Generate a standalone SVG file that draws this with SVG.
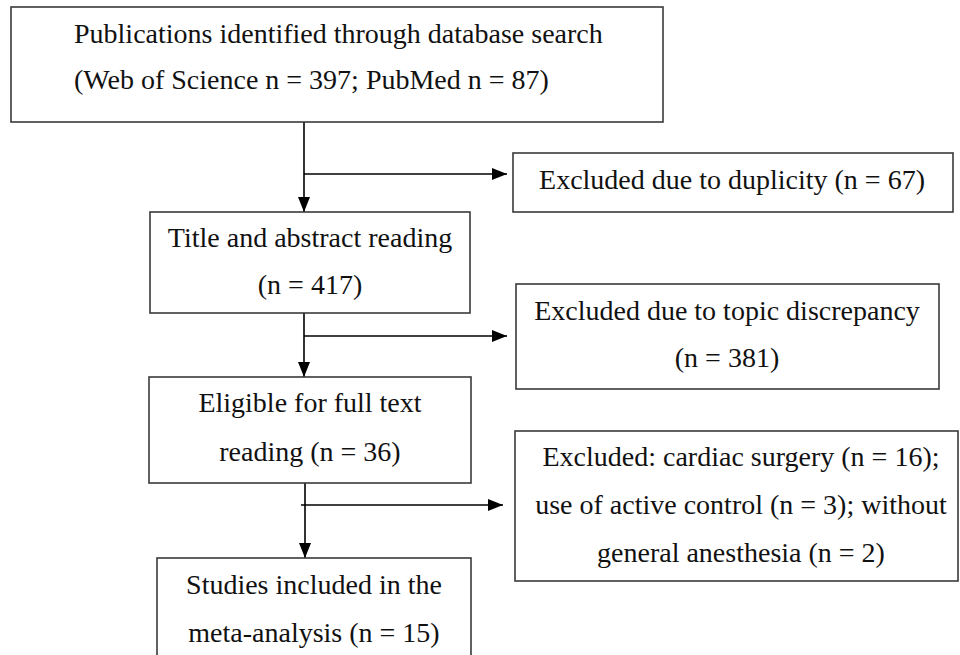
<svg xmlns="http://www.w3.org/2000/svg" width="960" height="655" viewBox="0 0 960 655">
<style>
.box{fill:#fff;stroke:#3a3a3a;stroke-width:1.6}
.t{font-family:"Liberation Serif","Times New Roman",serif;font-size:28px;fill:#111}
.c{text-anchor:middle}
.ln{stroke:#000;stroke-width:1.6;fill:none}
</style>
<defs>
<marker id="ah" markerUnits="userSpaceOnUse" markerWidth="15" markerHeight="12" viewBox="0 0 15 12" refX="15" refY="6" orient="auto">
<path d="M0,0 L15,6 L0,12 Z" fill="#000"/>
</marker>
</defs>
<rect width="960" height="655" fill="#fff"/>
<g id="connectors">
<line class="ln" x1="304" y1="122" x2="304" y2="212" marker-end="url(#ah)"/>
<line class="ln" x1="304" y1="174" x2="507" y2="174" marker-end="url(#ah)"/>
<line class="ln" x1="304" y1="313" x2="304" y2="377" marker-end="url(#ah)"/>
<line class="ln" x1="304" y1="336" x2="507" y2="336" marker-end="url(#ah)"/>
<line class="ln" x1="305" y1="471" x2="305" y2="558" marker-end="url(#ah)"/>
<line class="ln" x1="301" y1="505" x2="503" y2="505" marker-end="url(#ah)"/>
</g>
<g id="n1">
<rect class="box" x="11" y="7" width="652" height="115"/>
<text class="t" x="74" y="43">Publications identified through database search</text>
<text class="t" x="74" y="89">(Web of Science n = 397; PubMed n = 87)</text>
</g>
<g id="x1">
<rect class="box" x="513" y="153" width="440" height="59"/>
<text class="t c" x="732" y="189">Excluded due to duplicity (n = 67)</text>
</g>
<g id="n2">
<rect class="box" x="150" y="212" width="320" height="101"/>
<text class="t c" x="310" y="247">Title and abstract reading</text>
<text class="t c" x="310" y="294">(n = 417)</text>
</g>
<g id="x2">
<rect class="box" x="516" y="284" width="423" height="105"/>
<text class="t c" x="727" y="320">Excluded due to topic discrepancy</text>
<text class="t c" x="727" y="367">(n = 381)</text>
</g>
<g id="n3">
<rect class="box" x="149" y="377" width="322" height="106"/>
<text class="t c" x="310" y="412">Eligible for full text</text>
<text class="t c" x="310" y="461">reading (n = 36)</text>
</g>
<g id="x3">
<rect class="box" x="515" y="431" width="443" height="150"/>
<text class="t c" x="741" y="466">Excluded: cardiac surgery (n = 16);</text>
<text class="t c" x="741" y="514">use of active control (n = 3); without</text>
<text class="t c" x="741" y="562">general anesthesia (n = 2)</text>
</g>
<g id="n4">
<rect class="box" x="157" y="558" width="314" height="110"/>
<text class="t c" x="314" y="594">Studies included in the</text>
<text class="t c" x="314" y="642">meta-analysis (n = 15)</text>
</g>
</svg>
